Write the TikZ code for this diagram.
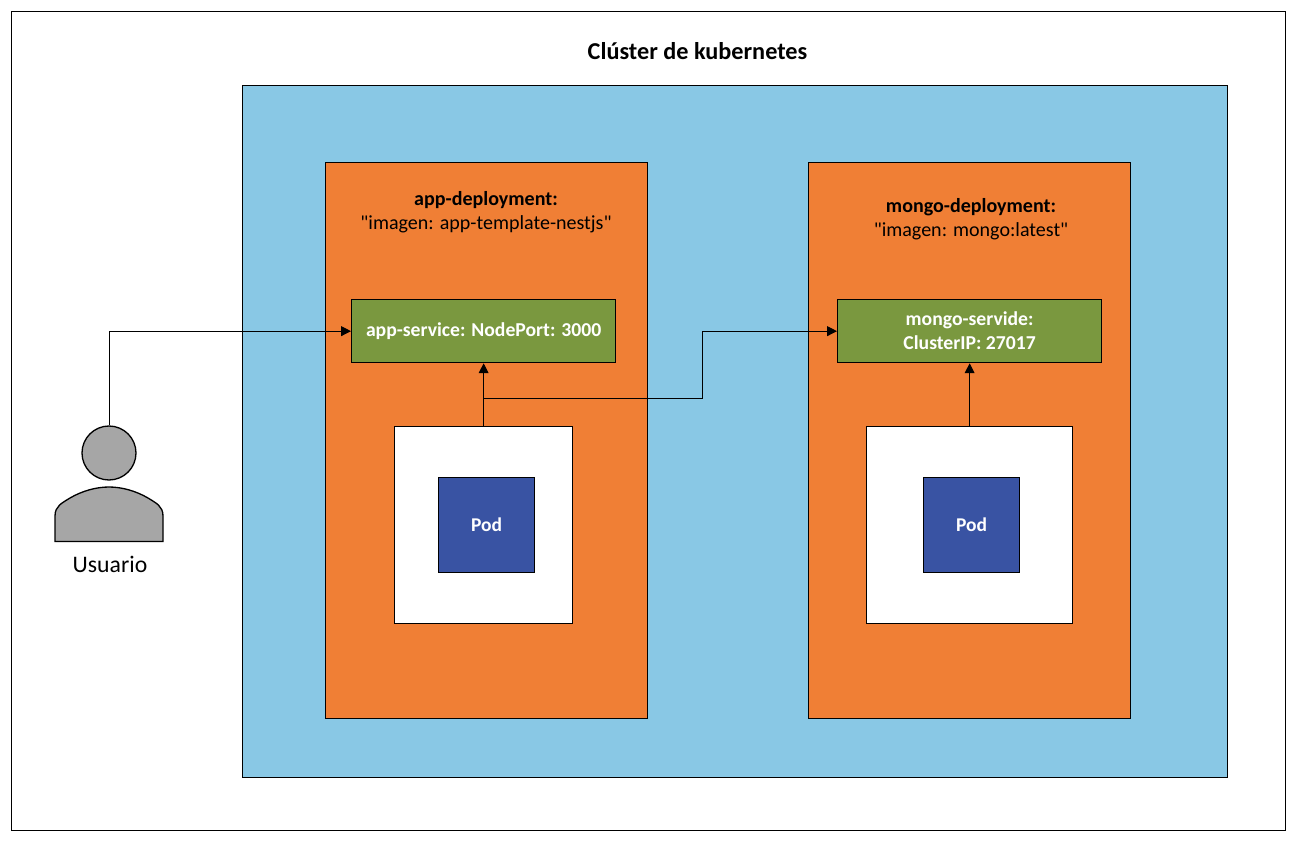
\documentclass[tikz,border=0pt]{standalone}
\usepackage{fontspec}
\setmainfont{Carlito}[Ligatures=TeXOff]
\usetikzlibrary{arrows.meta}
\definecolor{clusterblue}{HTML}{89C8E5}
\definecolor{deployorange}{HTML}{F07F35}
\definecolor{servicegreen}{HTML}{7A983F}
\definecolor{podblue}{HTML}{3953A3}
\definecolor{usergray}{HTML}{A6A6A6}
\tikzset{
  box/.style={draw=black,line width=0.75pt,rectangle,inner sep=0pt,anchor=north west},
  frame/.style={box,fill=white},
  cluster/.style={box,fill=clusterblue},
  deployment/.style={box,fill=deployorange},
  service/.style={box,fill=servicegreen,text=white,font=\bfseries\fontsize{11.2}{13.65}\selectfont,align=center},
  podbox/.style={box,fill=white},
  pod/.style={box,fill=podblue,text=white,font=\bfseries\fontsize{11.1}{13.65}\selectfont},
  title/.style={inner sep=0pt,align=center,font=\fontsize{11.4}{13.65}\selectfont},
  link/.style={draw=black,line width=0.55pt,-{Triangle[length=5.6pt,width=5.6pt]}},
  user/.style={draw=black,line width=0.75pt,fill=usergray}
}
\begin{document}
\begin{tikzpicture}[x=0.02cm,y=-0.02cm]
\useasboundingbox (0,0) rectangle (1295,841);
\node [frame,minimum width=25.48cm,minimum height=16.38cm] (outer) at (11,11) {};
\node [title,font=\bfseries\fontsize{13.8}{16}\selectfont] (outertitle) at (697.5,51) {Clúster de kubernetes};
\node [cluster,minimum width=19.7cm,minimum height=13.84cm] (kube) at (242,85) {};
% app
\node [deployment,minimum width=6.44cm,minimum height=11.12cm] (appdep) at (325,162) {};
\node [title] (apptitle) at (486,212) {\textbf{app-deployment:}\\"imagen: app-template-nestjs"};
\node [service,minimum width=5.28cm,minimum height=1.26cm] (appsvc) at (351,299) {app-service: NodePort: 3000};
\node [podbox,minimum width=3.56cm,minimum height=3.94cm] (apphost) at (394,426) {};
\node [pod,minimum width=1.92cm,minimum height=1.9cm] (apppod) at (438,477) {Pod};
% mongo
\node [deployment,minimum width=6.44cm,minimum height=11.12cm] (mongodep) at (808,162) {};
\node [title] (mongotitle) at (971,219) {\textbf{mongo-deployment:}\\"imagen: mongo:latest"};
\node [service,minimum width=5.28cm,minimum height=1.26cm] (mongosvc) at (837,299) {mongo-servide:\\ClusterIP: 27017};
\node [podbox,minimum width=4.12cm,minimum height=3.94cm] (mongohost) at (866,426) {};
\node [pod,minimum width=1.92cm,minimum height=1.9cm] (mongopod) at (923,477) {Pod};
% usuario
\node [user,circle,inner sep=0pt,minimum size=1.08cm] (head) at (109,453) {};
\draw [user] (55,541.5) -- (55,516) .. controls (55,506) and (62,503) .. (70,498) .. controls (82,491) and (96,487) .. (109,487) .. controls (122,487) and (136,491) .. (148,498) .. controls (156,503) and (163,506) .. (163,516) -- (163,541.5) -- cycle;
\node [inner sep=0pt,font=\fontsize{13.5}{16}\selectfont] (usuario) at (110,564) {Usuario};
% connectors
\coordinate (bend) at (483,398);
\draw [link] (head.north) |- (appsvc.west);
\draw [link] (apphost.north) -- (appsvc.south -| apphost.north);
\draw [link] (bend) -- (702,398) |- (mongosvc.west);
\draw [link] (mongohost.north) -- (mongosvc.south -| mongohost.north);
\end{tikzpicture}
\end{document}
